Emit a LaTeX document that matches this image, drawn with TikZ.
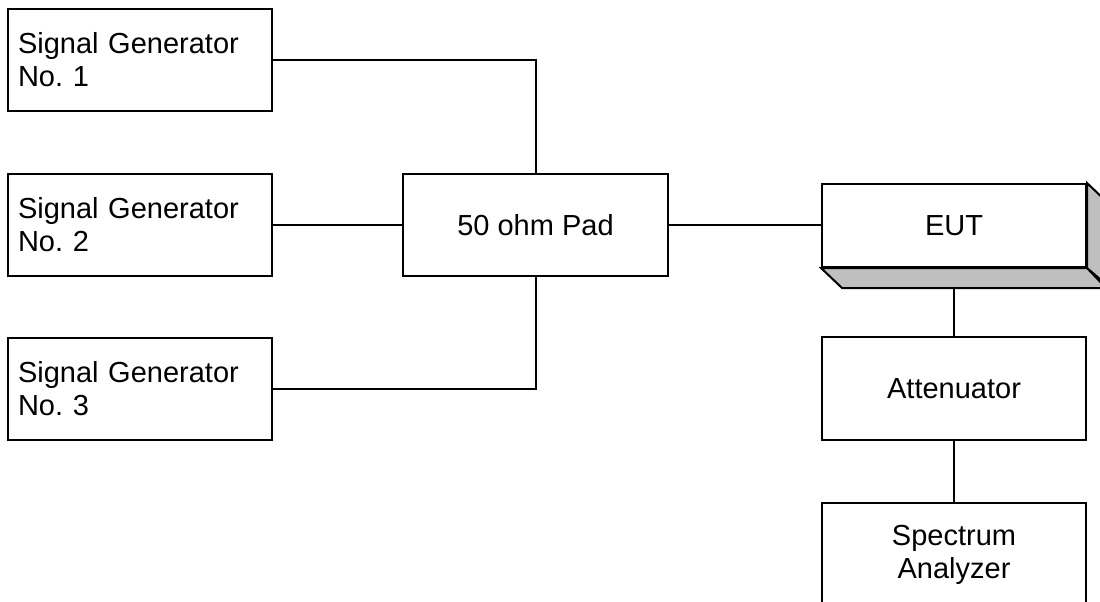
\documentclass[tikz,border=0pt]{standalone}
\usepackage{fontspec}
\setmainfont{Liberation Sans}
\frenchspacing
\begin{document}
\begin{tikzpicture}[x=1pt,y=-1pt,line width=2pt,line join=miter,
  box/.style={draw,fill=white,minimum width=264pt,minimum height=102pt,inner sep=0pt,
    font=\fontsize{29}{33}\selectfont,align=center},
  gen/.style={box,text width=244pt,align=left},
  shade/.style={draw,fill=black!25}]
\useasboundingbox (0,0) rectangle (1100,602);
\node[gen] (sg1) at (140,60) {Signal Generator\\No.\ 1};
\node[gen] (sg2) at (140,225) {Signal Generator\\No.\ 2};
\node[gen] (sg3) at (140,389) {Signal Generator\\No.\ 3};
\node[box,minimum width=265pt] (pad) at (535.5,225) {50 ohm Pad};
% EUT with 3D bevel
\node[box,minimum height=83pt] (eut) at (954,225.5) {EUT};
\draw[shade] (eut.south west) -- ++(21,20) -- ++(264,0) -- (eut.south east) -- cycle;
\draw[shade] (eut.north east) -- ++(21,20) -- ++(0,83) -- (eut.south east) -- cycle;
\coordinate (eutb) at ([yshift=-20pt]eut.south);
\node[box,minimum height=103pt] (att) at (954,388.5) {Attenuator};
\node[box,minimum height=103pt] (sa) at (954,554.5) {Spectrum\\Analyzer};
% connectors
\draw (sg1.east) -| (pad.north);
\draw (sg2.east) -- (pad.west);
\draw (sg3.east) -| (pad.south);
\draw (pad.east) -- (eut.west |- pad.east);
\draw (eutb) -- (att.north);
\draw (att.south) -- (sa.north);
\end{tikzpicture}
\end{document}
